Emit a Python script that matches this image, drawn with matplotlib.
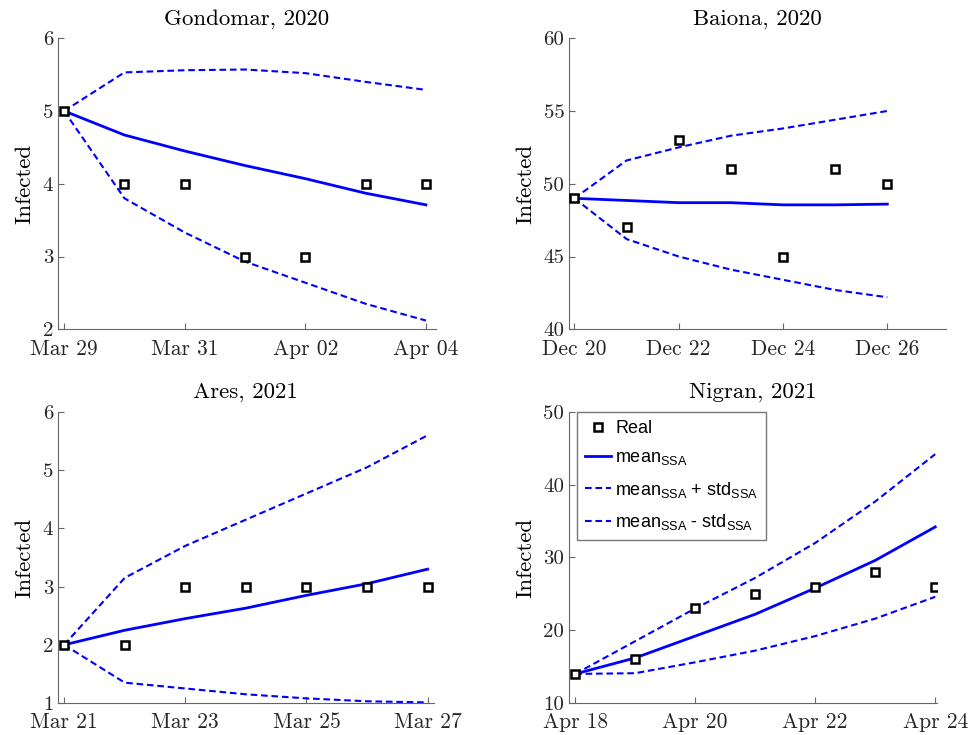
import datetime as dt
import matplotlib
matplotlib.use("Agg")
import matplotlib.pyplot as plt
import matplotlib.dates as mdates

plt.rcParams["font.family"] = "serif"
plt.rcParams["font.serif"] = ["cmr10", "DejaVu Serif"]
plt.rcParams["axes.unicode_minus"] = False
plt.rcParams["mathtext.fontset"] = "custom"
plt.rcParams["mathtext.sf"] = "Liberation Sans"
plt.rcParams["mathtext.rm"] = "Liberation Sans"

# ─── Data ────────────────────────────────────────────────────────────────────
gondomar_start = "2020-03-29"
gondomar_real  = [5, 4, 4, 3, 3, 4, 4]
gondomar_mean  = [5, 4.67, 4.45, 4.25, 4.07, 3.87, 3.71]
gondomar_upper = [5, 5.53, 5.56, 5.57, 5.52, 5.40, 5.29]
gondomar_lower = [5, 3.80, 3.33, 2.93, 2.64, 2.35, 2.12]

baiona_start = "2020-12-20"
baiona_real  = [49, 47, 53, 51, 45, 51, 50]
baiona_mean  = [49, 48.85, 48.7, 48.7, 48.55, 48.55, 48.6]
baiona_upper = [49, 51.6, 52.5, 53.3, 53.8, 54.4, 55.0]
baiona_lower = [49, 46.2, 45.0, 44.1, 43.4, 42.7, 42.2]

ares_start = "2021-03-21"
ares_real  = [2, 2, 3, 3, 3, 3, 3]
ares_mean  = [2, 2.25, 2.45, 2.63, 2.85, 3.05, 3.3]
ares_upper = [2, 3.15, 3.7, 4.15, 4.6, 5.05, 5.6]
ares_lower = [2, 1.35, 1.25, 1.15, 1.08, 1.03, 1.01]

nigran_start = "2021-04-18"
nigran_real  = [14, 16, 23, 25, 26, 28, 26]
nigran_mean  = [14, 16.2, 19.2, 22.2, 25.8, 29.6, 34.2]
nigran_upper = [14, 18.5, 23.0, 27.2, 32.0, 37.7, 44.2]
nigran_lower = [14, 14.1, 15.6, 17.2, 19.2, 21.6, 24.6]

PANELS = [
    ("Gondomar, 2020", gondomar_start, gondomar_real, gondomar_mean, gondomar_upper, gondomar_lower,
     (2, 6), [2, 3, 4, 5, 6], (0.060, 0.552, 0.390, 0.396), 6.16),
    ("Baiona, 2020", baiona_start, baiona_real, baiona_mean, baiona_upper, baiona_lower,
     (40, 60), [40, 45, 50, 55, 60], (0.588, 0.552, 0.389, 0.396), 7.12),
    ("Ares, 2021", ares_start, ares_real, ares_mean, ares_upper, ares_lower,
     (1, 6), [1, 2, 3, 4, 5, 6], (0.060, 0.0435, 0.388, 0.396), 6.1),
    ("Nigran, 2021", nigran_start, nigran_real, nigran_mean, nigran_upper, nigran_lower,
     (10, 50), [10, 20, 30, 40, 50], (0.588, 0.0435, 0.380, 0.396), 6.03),
]

BLUE = (0, 0, 1)
AXCOL = "#666666"
DASH = (3.2, 1.8)

fig = plt.figure(figsize=(9.68, 7.35), dpi=100)

for i, (title, start, real, mean, upper, lower, ylim, yticks, pos, xright) in enumerate(PANELS):
    ax = fig.add_axes(pos)
    d0 = dt.datetime.strptime(start, "%Y-%m-%d")
    days = [d0 + dt.timedelta(days=k) for k in range(len(real))]
    ax.plot(days, real, "s", color="black", mfc="white", mew=1.8, ms=6,
            label="Real", zorder=5)
    ax.plot(days, mean, "-", color=BLUE, lw=2, label=r"mean$_\mathsf{SSA}$")
    ax.plot(days, upper, "--", color=BLUE, lw=1.5, dashes=DASH,
            label=r"mean$_\mathsf{SSA}$ + std$_\mathsf{SSA}$")
    ax.plot(days, lower, "--", color=BLUE, lw=1.5, dashes=DASH,
            label=r"mean$_\mathsf{SSA}$ - std$_\mathsf{SSA}$")

    ax.set_xlim(d0 - dt.timedelta(days=0.1), d0 + dt.timedelta(days=xright))
    ax.set_ylim(*ylim)
    ax.set_yticks(yticks)
    ax.set_xticks(days[::2])
    ax.xaxis.set_major_formatter(mdates.DateFormatter("%b %d"))
    ax.set_ylabel("Infected", fontsize=16.5, labelpad=6)
    ax.set_title(title, fontsize=16.5, pad=10)
    for s in ["top", "right"]:
        ax.spines[s].set_visible(False)
    for s in ["left", "bottom"]:
        ax.spines[s].set_color(AXCOL)
    ax.tick_params(direction="in", length=4, color=AXCOL, labelsize=15.5,
                   labelcolor="#262626")
    ax.tick_params(axis="y", labelsize=15)
    ax.tick_params(axis="x", pad=7)

    if i == 3:
        leg = ax.legend(loc="upper left", bbox_to_anchor=(0.022, 1.0),
                        prop={"family": "Liberation Sans", "size": 13},
                        frameon=True, fancybox=False, edgecolor="#555555",
                        handlelength=1.4, handletextpad=0.25, borderaxespad=0.0,
                        labelspacing=0.68, borderpad=0.45)
        leg.get_frame().set_linewidth(1.0)

fig.savefig("out.png", dpi=100)
